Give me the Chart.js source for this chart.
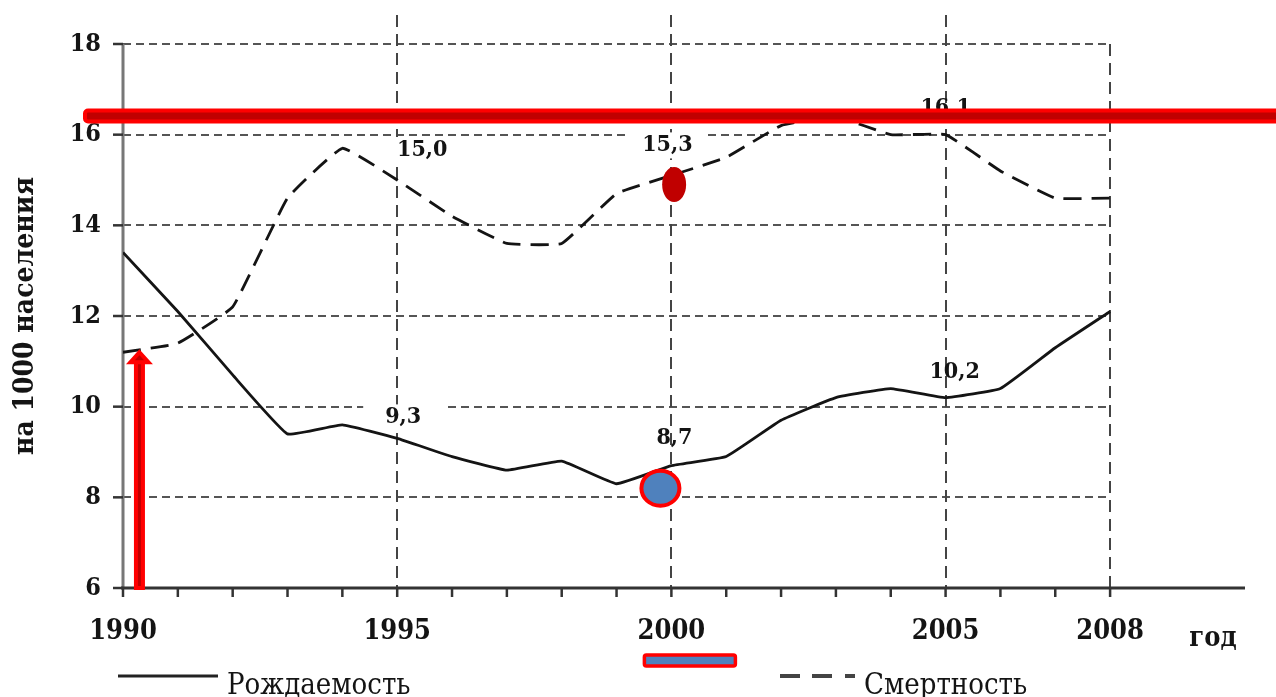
<!DOCTYPE html>
<html lang="ru">
<head>
<meta charset="utf-8">
<title>Рождаемость и смертность</title>
<script src="https://cdn.jsdelivr.net/npm/chart.js@4.4.1/dist/chart.umd.min.js"></script>
<style>
  html, body { margin:0; padding:0; background:#fff; overflow:hidden; }
  #wrap { position:relative; width:1276px; height:697px; }
</style>
</head>
<body>
<div id="wrap"><canvas id="chart"></canvas></div>
<script>
/* ── Data ── */
const years     = [1990,1991,1992,1993,1994,1995,1996,1997,1998,1999,2000,2001,2002,2003,2004,2005,2006,2007,2008];
const birthRate = [13.4,12.1,10.7, 9.4, 9.6, 9.3, 8.9, 8.6, 8.8, 8.3, 8.7, 8.9, 9.7,10.2,10.4,10.2,10.4,11.3,12.1];
const deathRate = [11.2,11.4,12.2,14.6,15.7,15.0,14.2,13.6,13.6,14.7,15.1,15.5,16.2,16.4,16.0,16.0,15.2,14.6,14.6];
const xLabels   = [1990, 1995, 2000, 2005, 2008];
const yTicks    = [6, 8, 10, 12, 14, 16, 18];
const vGrid     = [1995, 2000, 2005, 2008];

// подписи значений: [год, значение] + смещение подписи в пикселях
const birthNotes = [[1995, 9.3], [2000, 8.7], [2005, 10.2]];
const deathNotes = [[1995, 15.0], [2000, 15.3], [2005, 16.1]];
const birthNoteOffsets = [[6, -21, true], [3, -28, false], [9, -26, false]];
const deathNoteOffsets = [[25, -30, true], [-4, -21, true], [0, -22, false]];

const SERIF = "'DejaVu Serif Condensed', 'DejaVu Serif', 'Liberation Serif', serif";
const INK = '#141414';

/* ── Plugin: grid, axes, notes, legend, marks ── */
const paper = {
  id: 'paper',
  beforeDatasetsDraw(chart) {
    const { ctx, chartArea: a, scales: { x, y } } = chart;
    const x0 = x.getPixelForValue(1990), x8 = x.getPixelForValue(2008);
    ctx.save();
    // horizontal dashed grid
    ctx.strokeStyle = '#555'; ctx.lineWidth = 2; ctx.setLineDash([8, 5]);
    yTicks.slice(1).forEach(v => {
      const py = Math.round(y.getPixelForValue(v));
      ctx.beginPath(); ctx.moveTo(x0, py); ctx.lineTo(x8, py); ctx.stroke();
    });
    // vertical dashed grid
    ctx.strokeStyle = '#444'; ctx.setLineDash([12, 7]);
    vGrid.forEach(v => {
      const px = Math.round(x.getPixelForValue(v));
      ctx.beginPath(); ctx.moveTo(px, v === 2008 ? a.top : a.top - 29); ctx.lineTo(px, a.bottom); ctx.stroke();
    });
    ctx.setLineDash([]);
    // white boxes behind some notes
    ctx.fillStyle = '#fff';
    const boxes = (notes, offs) => notes.forEach((n, i) => {
      if (!offs[i][2]) return;
      const px = x.getPixelForValue(n[0]) + offs[i][0];
      const py = y.getPixelForValue(n[1]) + offs[i][1];
      ctx.fillRect(px - 40, py - 13, 80, 26);
    });
    boxes(birthNotes, birthNoteOffsets);
    boxes(deathNotes, deathNoteOffsets);
    // axes
    ctx.strokeStyle = '#777'; ctx.lineWidth = 3;
    ctx.beginPath(); ctx.moveTo(a.left, a.top); ctx.lineTo(a.left, a.bottom); ctx.stroke();
    ctx.strokeStyle = '#333';
    ctx.beginPath(); ctx.moveTo(a.left - 2, a.bottom); ctx.lineTo(a.right, a.bottom); ctx.stroke();
    // tick marks
    ctx.lineWidth = 2.5; ctx.strokeStyle = '#333';
    years.forEach(v => {
      const px = x.getPixelForValue(v);
      ctx.beginPath(); ctx.moveTo(px, a.bottom); ctx.lineTo(px, a.bottom + 9); ctx.stroke();
    });
    yTicks.forEach(v => {
      const py = y.getPixelForValue(v);
      ctx.beginPath(); ctx.moveTo(a.left - 10, py); ctx.lineTo(a.left, py); ctx.stroke();
    });
    ctx.restore();
  },
  afterDatasetsDraw(chart) {
    const { ctx, chartArea: a, scales: { x, y } } = chart;
    ctx.save();
    // value notes
    ctx.fillStyle = INK; ctx.font = `bold 23px ${SERIF}`;
    ctx.textAlign = 'center'; ctx.textBaseline = 'middle';
    const notes = (list, offs) => list.forEach((n, i) => {
      const px = x.getPixelForValue(n[0]) + offs[i][0];
      const py = y.getPixelForValue(n[1]) + offs[i][1];
      ctx.fillText(n[1].toFixed(1).replace('.', ','), px, py);
    });
    notes(birthNotes, birthNoteOffsets);
    notes(deathNotes, deathNoteOffsets);
    // "год"
    ctx.font = `bold 27px ${SERIF}`; ctx.textBaseline = 'alphabetic';
    ctx.fillText('год', 1213, 646);
    // legend
    ctx.textAlign = 'left';
    ctx.strokeStyle = '#222'; ctx.lineWidth = 3;
    ctx.beginPath(); ctx.moveTo(118, 676); ctx.lineTo(218, 676); ctx.stroke();
    ctx.font = `29px ${SERIF}`;
    ctx.fillText('Рождаемость', 227, 694);
    ctx.strokeStyle = '#444'; ctx.lineWidth = 4;
    [[780, 800], [812, 832], [845, 855]].forEach(([s, e]) => {
      ctx.beginPath(); ctx.moveTo(s, 676); ctx.lineTo(e, 676); ctx.stroke();
    });
    ctx.fillText('Смертность', 864, 694);

    /* ── red marks drawn over the picture ── */
    const RED = '#FF0000', DARK = '#C00000', BLUE = '#4F81BD';
    // horizontal bar
    const by = y.getPixelForValue(16.41);
    ctx.fillStyle = DARK; ctx.strokeStyle = RED; ctx.lineWidth = 4;
    ctx.beginPath(); ctx.roundRect(85, by - 5.5, 1200, 11, 3); ctx.fill(); ctx.stroke();
    // arrow
    const ax = x.getPixelForValue(1990.3), aTop = y.getPixelForValue(11.2);
    ctx.beginPath(); ctx.rect(ax - 3.5, aTop + 8, 7, a.bottom - aTop - 8); ctx.fill(); ctx.stroke();
    ctx.beginPath(); ctx.moveTo(ax, aTop); ctx.lineTo(ax + 9, aTop + 10); ctx.lineTo(ax - 9, aTop + 10); ctx.closePath();
    ctx.fill(); ctx.stroke();
    // dark ellipse on death line
    ctx.fillStyle = DARK;
    ctx.beginPath(); ctx.ellipse(x.getPixelForValue(2000.05), y.getPixelForValue(14.9), 12, 17.5, 0, 0, Math.PI * 2); ctx.fill();
    // blue circle on birth line
    ctx.fillStyle = BLUE; ctx.strokeStyle = RED; ctx.lineWidth = 4;
    ctx.beginPath(); ctx.ellipse(x.getPixelForValue(1999.8), y.getPixelForValue(8.2), 19, 17.5, 0, 0, Math.PI * 2); ctx.fill(); ctx.stroke();
    // blue bar under "2000"
    ctx.lineWidth = 3.5;
    ctx.beginPath(); ctx.roundRect(x.getPixelForValue(2000) - 27, 655, 91, 11, 2); ctx.fill(); ctx.stroke();
    ctx.restore();
  }
};

/* ── Chart ── */
new Chart(document.getElementById('chart'), {
  type: 'line',
  data: {
    datasets: [
      { label: 'Рождаемость', data: years.map((yr, i) => ({ x: yr, y: birthRate[i] })),
        borderColor: INK, borderWidth: 2.8, pointRadius: 0, tension: 0.1, fill: false },
      { label: 'Смертность', data: years.map((yr, i) => ({ x: yr, y: deathRate[i] })),
        borderColor: INK, borderWidth: 2.8, borderDash: [18, 10], pointRadius: 0, tension: 0.1, fill: false }
    ]
  },
  options: {
    responsive: true, maintainAspectRatio: false, animation: false,
    layout: { padding: { top: 44, right: 31, bottom: 0, left: 0 } },
    plugins: { legend: { display: false }, tooltip: { enabled: false } },
    scales: {
      x: {
        type: 'linear', min: 1990, max: 2010.46,
        grid: { display: false, drawTicks: false }, border: { display: false },
        afterBuildTicks: s => { s.ticks = xLabels.map(v => ({ value: v })); },
        afterFit: s => { s.height = 109; },
        ticks: { padding: 28, autoSkip: false, maxRotation: 0, color: INK, font: { family: SERIF, size: 27, weight: 'bold' }, callback: v => String(v) }
      },
      y: {
        min: 6, max: 18,
        grid: { display: false, drawTicks: false }, border: { display: false },
        afterBuildTicks: s => { s.ticks = yTicks.map(v => ({ value: v })); },
        afterFit: s => { s.width = 123; },
        ticks: { padding: 22, color: INK, font: { family: SERIF, size: 25, weight: 'bold' } },
        title: { display: true, text: 'на 1000 населения', color: INK, padding: { top: 9, bottom: 0 },
                 font: { family: SERIF, size: 28, weight: 'bold' } }
      }
    }
  },
  plugins: [paper]
});
</script>
</body>
</html>
